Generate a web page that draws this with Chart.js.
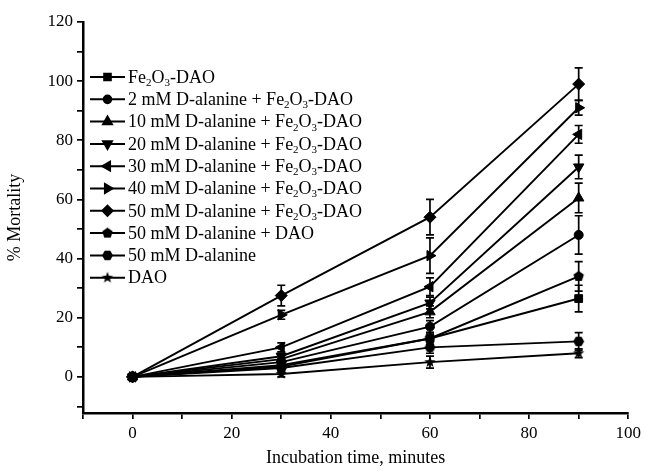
<!DOCTYPE html>
<html>
<head>
<meta charset="utf-8">
<script src="https://cdn.jsdelivr.net/npm/chart.js@4.4.0/dist/chart.umd.min.js"></script>
<style>
  html, body { margin: 0; padding: 0; background: #fff; }
  #wrap { width: 645px; height: 471px; }
</style>
</head>
<body>
<div id="wrap"><canvas id="mortalityChart" width="645" height="471"></canvas></div>
<script>
// time points (minutes)
const minutes = [0, 30, 60, 90];

const seriesLabels = [
    'Fe₂O₃-DAO',
    '2 mM D-alanine + Fe₂O₃-DAO',
    '10 mM D-alanine + Fe₂O₃-DAO',
    '20 mM D-alanine + Fe₂O₃-DAO',
    '30 mM D-alanine + Fe₂O₃-DAO',
    '40 mM D-alanine + Fe₂O₃-DAO',
    '50 mM D-alanine + Fe₂O₃-DAO',
    '50 mM D-alanine + DAO',
    '50 mM D-alanine',
    'DAO'
];

// % mortality
const fe2o3Dao   = [0, 4, 13, 26.5];
const dAla2      = [0, 5, 17, 48];
const dAla10     = [0, 6, 22, 60.5];
const dAla20     = [0, 7, 25, 71];
const dAla30     = [0, 10, 30.5, 82];
const dAla40     = [0, 21, 41, 91];
const dAla50     = [0, 27.5, 54, 99];
const dAla50Dao  = [0, 3.5, 13, 34];
const dAla50Only = [0, 3, 10, 12];
const daoOnly    = [0, 1, 5, 8];

// error bars (+/-)
const errFe2o3Dao   = [0.5, 1, 2, 4.5];
const errDAla2      = [0.5, 1, 2, 6.5];
const errDAla10     = [0.5, 1, 2, 5];
const errDAla20     = [0.5, 1, 2, 4];
const errDAla30     = [0.5, 1.5, 3, 3];
const errDAla40     = [0.5, 1.5, 6, 2.5];
const errDAla50     = [0.5, 3.5, 6, 5.5];
const errDAla50Dao  = [0.5, 1, 2, 5];
const errDAla50Only = [0.5, 1, 2, 3];
const errDaoOnly    = [0.5, 1, 2, 1.5];

const xTicks = [0, 20, 40, 60, 80, 100];
const yTicks = [0, 20, 40, 60, 80, 100, 120];

const SERIF = '"Liberation Serif", "Times New Roman", serif';

// small canvases for the markers Chart.js does not have
function makeMarker(shape, r) {
    const c = document.createElement('canvas');
    const s = Math.ceil(r * 2 + 2);
    c.width = s; c.height = s;
    const g = c.getContext('2d');
    const cx = s / 2, cy = s / 2;
    g.fillStyle = '#000';
    g.beginPath();
    if (shape === 'pentagon') {
        for (let i = 0; i < 5; i++) {
            const a = -Math.PI / 2 + i * 2 * Math.PI / 5;
            const px = cx + r * Math.cos(a), py = cy + r * Math.sin(a);
            i ? g.lineTo(px, py) : g.moveTo(px, py);
        }
    } else if (shape === 'hexagon') {
        for (let i = 0; i < 6; i++) {
            const a = i * Math.PI / 3;
            const px = cx + r * Math.cos(a), py = cy + r * Math.sin(a);
            i ? g.lineTo(px, py) : g.moveTo(px, py);
        }
    } else if (shape === 'star') {
        for (let i = 0; i < 10; i++) {
            const a = -Math.PI / 2 + i * Math.PI / 5;
            const rr = i % 2 ? r * 0.42 : r;
            const px = cx + rr * Math.cos(a), py = cy + rr * Math.sin(a);
            i ? g.lineTo(px, py) : g.moveTo(px, py);
        }
    }
    g.closePath();
    g.fill();
    return c;
}

const markers = [
    { style: 'rect', rot: 0, r: 5.5 },
    { style: 'circle', rot: 0, r: 4.5 },
    { style: 'triangle', rot: 0, r: 6 },
    { style: 'triangle', rot: 180, r: 6 },
    { style: 'triangle', rot: -90, r: 6 },
    { style: 'triangle', rot: 90, r: 6 },
    { style: 'rectRot', rot: 0, r: 6 },
    { style: makeMarker('pentagon', 5.5), rot: 0, r: 5.5 },
    { style: makeMarker('hexagon', 5.5), rot: 0, r: 5.5 },
    { style: makeMarker('star', 6), rot: 0, r: 6 }
];

const seriesData = [fe2o3Dao, dAla2, dAla10, dAla20, dAla30, dAla40, dAla50, dAla50Dao, dAla50Only, daoOnly];
const seriesErr = [errFe2o3Dao, errDAla2, errDAla10, errDAla20, errDAla30, errDAla40, errDAla50, errDAla50Dao, errDAla50Only, errDaoOnly];

const datasets = seriesLabels.map((label, i) => ({
    label: label,
    data: minutes.map((m, j) => ({ x: m, y: seriesData[i][j] })),
    errors: seriesErr[i],
    borderColor: '#000',
    backgroundColor: '#000',
    borderWidth: 1.9,
    pointStyle: markers[i].style,
    pointRotation: markers[i].rot,
    pointRadius: markers[i].r,
    pointBorderWidth: 1,
    tension: 0
}));

// vertical error bars with caps
const errorBarsPlugin = {
    id: 'errorBars',
    beforeDatasetsDraw(chart) {
        const ctx = chart.ctx;
        const xs = chart.scales.x, ys = chart.scales.y;
        ctx.save();
        ctx.strokeStyle = '#000';
        ctx.lineWidth = 1.7;
        chart.data.datasets.forEach(ds => {
            ds.data.forEach((p, j) => {
                const e = ds.errors[j];
                if (!e) return;
                const px = xs.getPixelForValue(p.x);
                const top = ys.getPixelForValue(p.y + e);
                const bot = ys.getPixelForValue(p.y - e);
                ctx.beginPath();
                ctx.moveTo(px, top); ctx.lineTo(px, bot);
                ctx.moveTo(px - 4, top); ctx.lineTo(px + 4, top);
                ctx.moveTo(px - 4, bot); ctx.lineTo(px + 4, bot);
                ctx.stroke();
            });
        });
        ctx.restore();
    }
};

// text with subscript digits (₂ ₃)
function drawRichText(ctx, text, x, y, size) {
    const subs = { '₂': '2', '₃': '3' };
    let cx = x;
    let run = '';
    const flush = () => {
        if (!run) return;
        ctx.font = size + 'px ' + SERIF;
        ctx.fillText(run, cx, y);
        cx += ctx.measureText(run).width;
        run = '';
    };
    for (const ch of text) {
        if (subs[ch]) {
            flush();
            ctx.font = Math.round(size * 0.62) + 'px ' + SERIF;
            ctx.fillText(subs[ch], cx, y + size * 0.28);
            cx += ctx.measureText(subs[ch]).width;
        } else {
            run += ch;
        }
    }
    flush();
}

// legend inside the plot, top left
const insideLegendPlugin = {
    id: 'insideLegend',
    afterDraw(chart) {
        const ctx = chart.ctx;
        const x0 = 90, x1 = 125, textX = 128;
        const rowY0 = 77, rowH = 22.3;
        ctx.save();
        chart.data.datasets.forEach((ds, i) => {
            const y = rowY0 + i * rowH;
            ctx.strokeStyle = '#000';
            ctx.lineWidth = 2;
            ctx.beginPath();
            ctx.moveTo(x0, y); ctx.lineTo(x1, y);
            ctx.stroke();
            ctx.fillStyle = '#000';
            ctx.strokeStyle = '#000';
            Chart.helpers.drawPoint(ctx, {
                pointStyle: ds.pointStyle,
                rotation: ds.pointRotation,
                radius: ds.pointRadius * 0.85,
                borderWidth: 1
            }, (x0 + x1) / 2, y);
            ctx.textBaseline = 'middle';
            ctx.textAlign = 'left';
            drawRichText(ctx, ds.label, textX, y + 1, 18);
        });
        ctx.restore();
    }
};

const ctx = document.getElementById('mortalityChart').getContext('2d');
new Chart(ctx, {
    type: 'line',
    data: { datasets: datasets },
    plugins: [errorBarsPlugin, insideLegendPlugin],
    options: {
        responsive: false,
        animation: false,
        layout: { padding: { top: 22, right: 12, left: 0, bottom: 0 } },
        plugins: {
            legend: { display: false },
            tooltip: { enabled: false }
        },
        scales: {
            x: {
                type: 'linear',
                min: -10,
                max: 100,
                afterFit(scale) { scale.height = 58; },
                grid: { drawOnChartArea: false, drawTicks: true, tickLength: 6, color: '#000', lineWidth: 1.7 },
                border: { display: true, color: '#000', width: 2.5 },
                ticks: {
                    stepSize: 10,
                    includeBounds: false,
                    color: '#000',
                    padding: 4,
                    maxRotation: 0,
                    font: { family: SERIF, size: 17 },
                    callback: v => xTicks.includes(v) ? String(v) : ''
                },
                title: {
                    display: true,
                    text: 'Incubation time, minutes',
                    color: '#000',
                    font: { family: SERIF, size: 18 },
                    padding: { top: 0, bottom: 2 }
                }
            },
            y: {
                min: -12.2,
                max: 120,
                afterFit(scale) { scale.width = 83; },
                grid: { drawOnChartArea: false, drawTicks: true, tickLength: 6, color: '#000', lineWidth: 1.7 },
                border: { display: true, color: '#000', width: 2.5 },
                ticks: {
                    stepSize: 10,
                    includeBounds: false,
                    color: '#000',
                    padding: 4,
                    font: { family: SERIF, size: 17 },
                    callback: v => yTicks.includes(v) ? String(v) : ''
                },
                title: {
                    display: true,
                    text: '% Mortality',
                    color: '#000',
                    font: { family: SERIF, size: 18 },
                    padding: { top: 4, bottom: 0 }
                }
            }
        }
    }
});
</script>
</body>
</html>
